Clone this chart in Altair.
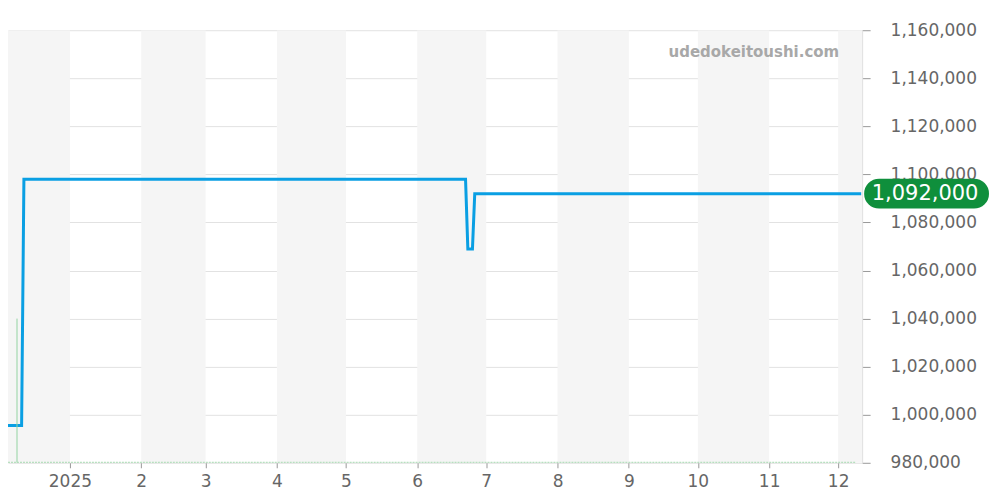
import altair as alt
import pandas as pd

# price series (step-like changes)
price_dates = ["2024-12-02T00:00:00", "2024-12-11T00:00:00", "2024-12-12T00:00:00",
               "2025-06-22T00:00:00", "2025-06-23T00:00:00", "2025-06-25T00:00:00",
               "2025-06-26T00:00:00", "2025-12-11T00:00:00"]
prices = [995500, 995500, 1098000, 1098000, 1069000, 1069000, 1092000, 1092000]

# volume spike
volume_dates = ["2024-12-09T00:00:00"]
volumes = [1]

# alternating shaded month bands
band_starts = ["2024-12-01T00:00:00", "2025-02-01T00:00:00", "2025-04-01T00:00:00",
               "2025-06-01T00:00:00", "2025-08-01T00:00:00", "2025-10-01T00:00:00",
               "2025-12-01T00:00:00"]
band_ends = ["2025-01-01T00:00:00", "2025-03-01T00:00:00", "2025-05-01T00:00:00",
             "2025-07-01T00:00:00", "2025-09-01T00:00:00", "2025-11-01T00:00:00",
             "2026-01-01T00:00:00"]

y_ticks = [980000, 1000000, 1020000, 1040000, 1060000, 1080000, 1100000,
           1120000, 1140000, 1160000]

price_df = pd.DataFrame({"date": price_dates, "price": prices})
vol_df = pd.DataFrame({"date": volume_dates, "volume": volumes})
band_df = pd.DataFrame({"start": band_starts, "end": band_ends})
last_df = pd.DataFrame({"price": [prices[-1]]})

x_scale = alt.Scale(domain=[alt.DateTime(year=2024, month=12, date=5, hours=2),
                            alt.DateTime(year=2025, month=12, date=11, hours=10)])
y_scale = alt.Scale(domain=[980000, 1160000], nice=False, zero=False)

x_axis = alt.Axis(
    title=None, grid=False, domain=False, orient="bottom",
    tickCount={"interval": "month", "step": 1},
    labelExpr="month(datum.value) == 0 ? timeFormat(datum.value, '%Y') : timeFormat(datum.value, '%-m')",
    tickColor="#999", tickSize=5, labelFontSize=17, labelColor="#666",
    labelPadding=6, labelFont="DejaVu Sans", labelFlush=False,
)
y_axis = alt.Axis(
    title=None, orient="right", values=y_ticks, format=",d",
    grid=True, gridColor="#e2e2e2", domain=True, domainColor="#ddd",
    tickColor="#999", tickSize=8, labelPadding=20, labelFontSize=17,
    labelColor="#666", labelFont="DejaVu Sans", labelAlign="left",
)

bands = alt.Chart(band_df).mark_rect(color="#f5f5f5", clip=True).encode(
    x=alt.X("start:T", scale=x_scale, axis=x_axis),
    x2="end:T",
)

line = alt.Chart(price_df).mark_line(color="#0a9fe3", strokeWidth=3, clip=True).encode(
    x=alt.X("date:T", scale=x_scale),
    y=alt.Y("price:Q", scale=y_scale, axis=y_axis),
)

pill = alt.Chart(last_df).mark_rule(color="#0f8f3c", strokeWidth=30, strokeCap="round").encode(
    x=alt.value(872), x2=alt.value(967),
    y=alt.Y("price:Q", scale=y_scale),
)
pill_text = alt.Chart(last_df).mark_text(
    color="white", fontSize=21, font="DejaVu Sans", align="center", baseline="middle"
).encode(
    x=alt.value(918),
    y=alt.Y("price:Q", scale=y_scale),
    text=alt.Text("price:Q", format=",d"),
)

price_layer = alt.layer(bands, line, pill, pill_text)

spike = alt.Chart(vol_df).mark_rule(color="#93d3a2", strokeWidth=1, clip=True).encode(
    x=alt.X("date:T", scale=x_scale),
    y=alt.Y("volume:Q", scale=alt.Scale(domain=[0, 3]), axis=None),
    y2=alt.datum(0),
)

baseline = alt.Chart(vol_df).mark_rule(color="#a6d9b0", strokeWidth=1, strokeDash=[2, 1]).encode(
    x=alt.value(0), x2=alt.value(848), y=alt.value(432.5),
)

watermark = alt.Chart(vol_df).mark_text(
    text="udedokeitoushi.com", fontSize=15, fontWeight="bold", color="#a8a8a8",
    font="DejaVu Sans", align="right", baseline="middle",
).encode(x=alt.value(832), y=alt.value(22))

chart = alt.layer(price_layer, spike, baseline, watermark).resolve_scale(
    y="independent"
).properties(
    width=855, height=433, autosize="none",
    padding={"left": 0, "top": 22, "right": 130, "bottom": 30},
).configure_view(strokeWidth=0)

chart.save("out.html", embed_options={"renderer": "svg", "actions": False})
